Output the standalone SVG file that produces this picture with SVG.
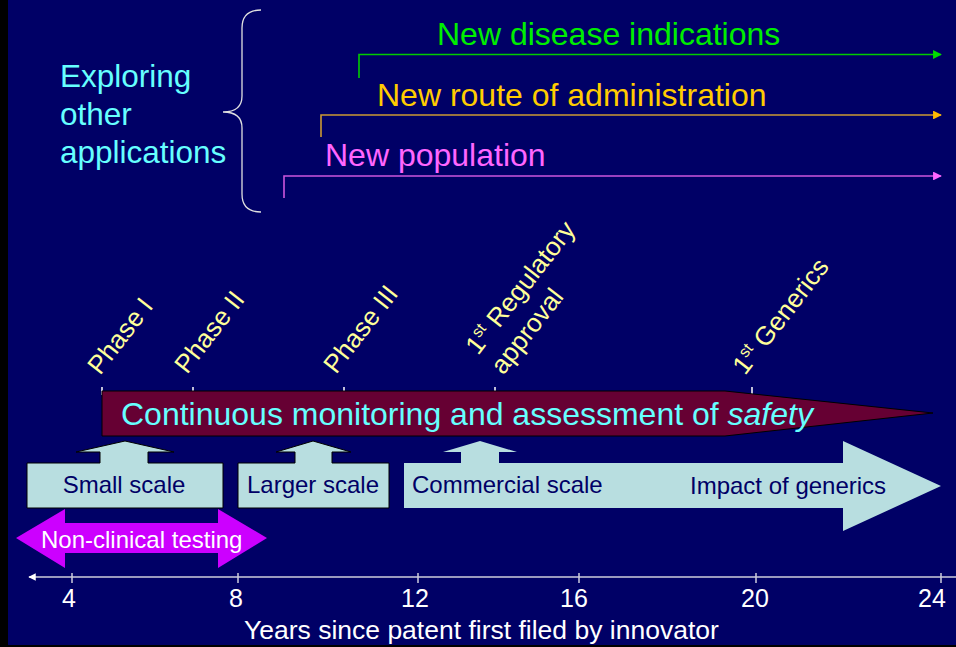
<svg xmlns="http://www.w3.org/2000/svg" width="956" height="647" viewBox="0 0 956 647">
<style>
text{font-family:"Liberation Sans",Arial,sans-serif}
.ph{fill:#FFFF99;font-size:26px}
.box{fill:#B8DEE0}
.boxo{fill:#B8DEE0;stroke:#000;stroke-width:1}
.bt{fill:#000066;font-size:24px}
.ax{fill:#fff;font-size:25px;text-anchor:middle}
.tk{stroke:#fff;stroke-width:1.5}
.atk{stroke:#ccccdd;stroke-width:1.5}
</style>
<defs>
<marker id="ag" viewBox="0 0 10 10" refX="9" refY="5" markerWidth="5.5" markerHeight="5.5" orient="auto" markerUnits="strokeWidth"><path d="M0,0 L10,5 L0,10 Z" fill="#00DD00"/></marker>
<marker id="ao" viewBox="0 0 10 10" refX="9" refY="5" markerWidth="5.5" markerHeight="5.5" orient="auto" markerUnits="strokeWidth"><path d="M0,0 L10,5 L0,10 Z" fill="#FFBB00"/></marker>
<marker id="am" viewBox="0 0 10 10" refX="9" refY="5" markerWidth="5.5" markerHeight="5.5" orient="auto" markerUnits="strokeWidth"><path d="M0,0 L10,5 L0,10 Z" fill="#FF66FF"/></marker>
<marker id="aw" viewBox="0 0 10 10" refX="9" refY="5" markerWidth="5" markerHeight="5" orient="auto" markerUnits="strokeWidth"><path d="M0,0 L10,5 L0,10 Z" fill="#ffffff"/></marker>
</defs>
<rect x="0" y="0" width="956" height="647" fill="#000066"/>
<rect x="0" y="0" width="8" height="647" fill="#000"/>
<rect x="0" y="645" width="956" height="2" fill="#000"/>

<g id="exploring">
<text x="60" y="87" fill="#66FFFF" font-size="31.5">Exploring</text>
<text x="60" y="125" fill="#66FFFF" font-size="31.5">other</text>
<text x="60" y="163" fill="#66FFFF" font-size="31.5">applications</text>
</g>
<g id="brace">
<path d="M261,10 Q242,10 242,28 V96 Q242,112 223,112 Q242,112 242,128 V194 Q242,212 261,212" fill="none" stroke="#e0e0e0" stroke-width="1.3"/>
</g>

<g id="connectors">
<path d="M359,78 V54.5 H941" fill="none" stroke="#00CC00" stroke-width="1.6" marker-end="url(#ag)"/>
<path d="M321,137 V115 H941" fill="none" stroke="#CC9933" stroke-width="1.6" marker-end="url(#ao)"/>
<path d="M284,198 V176 H941" fill="none" stroke="#CC55DD" stroke-width="1.6" marker-end="url(#am)"/>
<path d="M956,577 H29" fill="none" stroke="#ccccdd" stroke-width="1.5" marker-end="url(#aw)"/>
</g>

<g id="new-disease"><text x="437" y="45" fill="#00EE00" font-size="32">New disease indications</text></g>
<g id="new-route"><text x="377" y="106" fill="#FFCC00" font-size="32">New route of administration</text></g>
<g id="new-population"><text x="325" y="166" fill="#FF66FF" font-size="32">New population</text></g>

<g id="milestones">
<text class="ph" transform="translate(100,376) rotate(-52)">Phase I</text>
<text class="ph" transform="translate(187,375) rotate(-52)">Phase II</text>
<text class="ph" transform="translate(336,375) rotate(-52)">Phase III</text>
<text class="ph" transform="translate(478,356) rotate(-52)">1<tspan font-size="16" dy="-10">st</tspan><tspan dy="10"> Regulatory</tspan><tspan x="0" dy="32">approval</tspan></text>
<text class="ph" transform="translate(745,376) rotate(-52)">1<tspan font-size="16" dy="-10">st</tspan><tspan dy="10"> Generics</tspan></text>
<line class="tk" x1="102" y1="387" x2="102" y2="395"/>
<line class="tk" x1="193" y1="387" x2="193" y2="395"/>
<line class="tk" x1="344" y1="387" x2="344" y2="395"/>
<line class="tk" x1="495" y1="387" x2="495" y2="395"/>
<line class="tk" x1="752" y1="387" x2="752" y2="395"/>
</g>

<g id="monitoring">
<path d="M102,391 H725 L933,413 L725,436 H102 Z" fill="#660033" stroke="#000" stroke-width="1"/>
<text x="121" y="425" fill="#66FFFF" font-size="32">Continuous monitoring and assessment of <tspan font-style="italic">safety</tspan></text>
</g>

<g id="small-scale">
<path class="boxo" d="M27,463 H100 V452 H76 L125,441 L174,452 H148 V463 H223 V508 H27 Z"/>
<text class="bt" x="124" y="493" text-anchor="middle">Small scale</text>
</g>
<g id="larger-scale">
<path class="boxo" d="M238,463 H295 V452 H276 L313,441 L351,452 H332 V463 H389 V508 H238 Z"/>
<text class="bt" x="313" y="493" text-anchor="middle">Larger scale</text>
</g>
<g id="commercial-scale">
<path class="box" d="M404,463 H461 V452 H443 L480,441 L517,452 H499 V463 H843 V441 L941,486 L843,531 V508 H404 Z"/>
<text class="bt" x="412" y="493">Commercial scale</text>
<text class="bt" x="690" y="494">Impact of generics</text>
</g>

<g id="non-clinical">
<path d="M16,538 L65,509 V523 H218 V509 L267,538 L218,568 V553 H65 V568 Z" fill="#CC00FF"/>
<text x="41" y="548" fill="#fff" font-size="24">Non-clinical testing</text>
</g>

<g id="axis">
<line class="atk" x1="72" y1="573" x2="72" y2="583"/>
<line class="atk" x1="238" y1="573" x2="238" y2="583"/>
<line class="atk" x1="418" y1="573" x2="418" y2="583"/>
<line class="atk" x1="579" y1="573" x2="579" y2="583"/>
<line class="atk" x1="756" y1="573" x2="756" y2="583"/>
<line class="atk" x1="941" y1="573" x2="941" y2="583"/>
<text class="ax" x="69" y="607">4</text>
<text class="ax" x="236" y="607">8</text>
<text class="ax" x="415" y="607">12</text>
<text class="ax" x="574" y="607">16</text>
<text class="ax" x="755" y="607">20</text>
<text class="ax" x="932" y="607">24</text>
<text x="244" y="639" fill="#fff" font-size="26.5">Years since patent first filed by innovator</text>
</g>
</svg>
